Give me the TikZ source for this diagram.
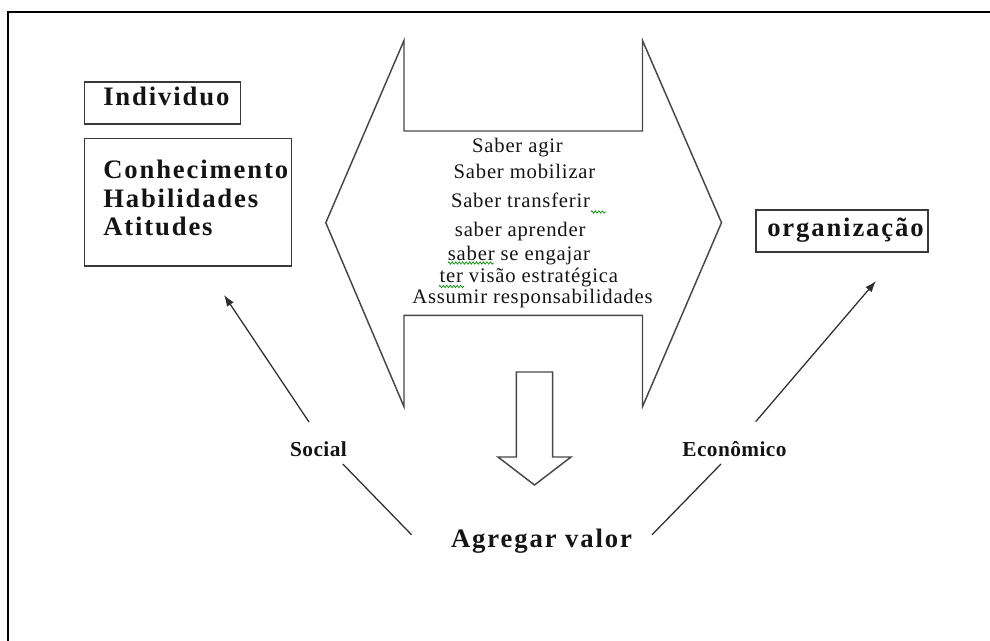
\documentclass[tikz,border=0pt]{standalone}
\usepackage{fontspec}
\setmainfont{Liberation Serif}
\newfontfamily\regfont[LetterSpace=3.8]{Liberation Serif}
\newfontfamily\bigfont[LetterSpace=7]{Liberation Serif Bold}
\newfontfamily\smfont[LetterSpace=2]{Liberation Serif Bold}
\usetikzlibrary{arrows.meta,decorations.pathmorphing}
\newcommand\regtxt[1]{{\fontsize{15.5}{18}\regfont #1}}
\newcommand\bigtxt[1]{{\fontsize{20}{24}\bigfont #1}}
\newcommand\smtxt[1]{{\fontsize{16}{18}\smfont #1}}
\tikzset{
  frameline/.style={draw=black, line width=1.6pt},
  shp/.style={draw=black!72, line width=1.1pt, line join=miter},
  box/.style={draw=black!78, line width=1.1pt, inner sep=0pt},
  lbl/.style={inner sep=0pt, text=black!92},
  conn/.style={draw=black!82, line width=0.95pt},
  arr/.style={conn, -{Latex[length=8.5pt,width=6pt]}},
  squig/.style={draw=green!55!black, line width=0.5pt, decorate,
    decoration={zigzag, amplitude=0.9pt, segment length=2.6pt}}
}
\begin{document}
\begin{tikzpicture}[x=0.75pt,y=-0.75pt]
\useasboundingbox (0,0) rectangle (990,641);
% frame
\draw[frameline] (8,645) -- (8,12) -- (995,12);

% boxes
\node[box, minimum width=116.7pt, minimum height=31.5pt] (indbox) at (162.5,103) {};
\node[box, minimum width=155pt, minimum height=95.5pt] (chabox) at (188,202.35) {};
\node[box, minimum width=129pt, minimum height=31.5pt] (orgbox) at (842,231) {};

\node[lbl, anchor=base west] (ind) at (103,105.7) {\bigtxt{Individuo}};
\node[lbl, anchor=base west] (c1) at (103,178.5) {\bigtxt{Conhecimento}};
\node[lbl, anchor=base west] (c2) at (103,207.5) {\bigtxt{Habilidades}};
\node[lbl, anchor=base west] (c3) at (103,236) {\bigtxt{Atitudes}};
\node[lbl, anchor=base west] (org) at (767,236.5) {\bigtxt{organização}};

% double arrow hexagon
\draw[shp] (404,40.5) -- (404,131) -- (642.5,131) -- (642.5,40.5) -- (721.5,222.7)
  -- (642.5,406.7) -- (642.5,315.3) -- (404,315.3) -- (404,406.7) -- (325.8,222.7) -- cycle;

% center text
\node[lbl, anchor=base] (t1) at (517.5,152.3) {\regtxt{Saber agir}};
\node[lbl, anchor=base] (t2) at (524.5,179) {\regtxt{Saber mobilizar}};
\node[lbl, anchor=base] (t3) at (520.5,207.3) {\regtxt{Saber transferir}};
\node[lbl, anchor=base] (t4) at (520.2,236.7) {\regtxt{saber aprender}};
\node[lbl, anchor=base] (t5) at (519,260.7) {\regtxt{saber se engajar}};
\node[lbl, anchor=base] (t6) at (528.8,282.3) {\regtxt{ter visão estratégica}};
\node[lbl, anchor=base] (t7) at (532.5,303.3) {\regtxt{Assumir responsabilidades}};

% spell-check squiggles
\draw[squig] (591,212) -- (606,212);
\draw[squig] (448,263) -- (494,263);
\draw[squig] (439,286.5) -- (464,286.5);

% down block arrow
\draw[shp] (516.3,457) -- (516.3,372) -- (552.7,372) -- (552.7,457) -- (571,457)
  -- (534.5,485) -- (498,457) -- cycle;

% labels
\node[lbl, anchor=base] (soc) at (318.5,456.7) {\smtxt{Social}};
\node[lbl, anchor=base] (eco) at (734.5,456.7) {\smtxt{Econômico}};
\node[lbl, anchor=base] (agr) at (541.5,548) {\bigtxt{Agregar valor}};

% connectors
\coordinate (socA) at (309,422);
\coordinate (socB) at (224,295);
\coordinate (ecoA) at (755.7,421.7);
\coordinate (ecoB) at (876,281);
\coordinate (lA) at (342.8,464);
\coordinate (lB) at (411.6,534.8);
\coordinate (rA) at (721,464);
\coordinate (rB) at (652,534.8);
\draw[arr] (socA) -- (socB);
\draw[arr] (ecoA) -- (ecoB);
\draw[conn] (lA) -- (lB);
\draw[conn] (rA) -- (rB);
\end{tikzpicture}
\end{document}
